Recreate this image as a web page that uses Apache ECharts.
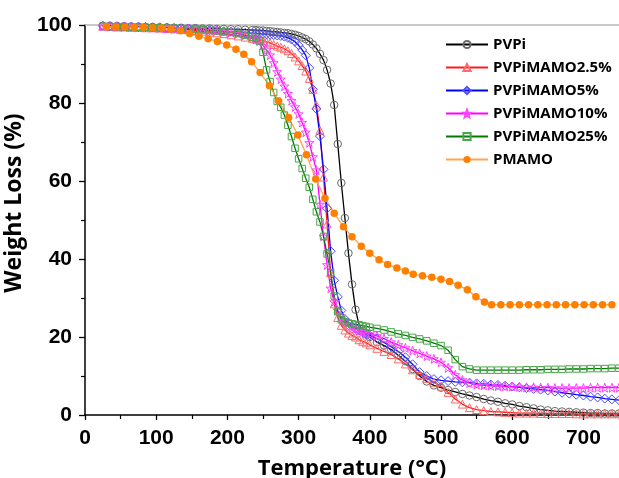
<!DOCTYPE html>
<html>
<head>
<meta charset="utf-8">
<script src="https://cdn.jsdelivr.net/npm/echarts@6/dist/echarts.min.js"></script>
<style>
  html, body { margin: 0; padding: 0; background: #fff; }
  #chart { width: 619px; height: 478px; }
</style>
</head>
<body>
<div id="chart"></div>
<script>
// temperature grid shared by the PVPi series (°C)
var temps = [
  25, 35, 45, 55, 65, 75, 85, 95, 105, 115, 125, 135, 145, 155, 165, 175, 185, 195, 205, 215, 225, 235,
  240, 245, 250, 255, 260, 265, 270, 275, 280, 285, 290, 295, 300, 305, 310, 315, 320, 325, 330, 335,
  340, 345, 350, 355, 360, 365, 370, 375, 380, 385, 390, 395, 400,
  410, 420, 430, 440, 450, 460, 470, 480, 490, 500, 510, 520, 530, 540, 550, 560, 570, 580, 590, 600,
  610, 620, 630, 640, 650, 660, 670, 680, 690, 700, 710, 720, 730, 740, 750
];

var pvpi = [
  99.8, 99.8, 99.7, 99.7, 99.6, 99.6, 99.5, 99.5, 99.4, 99.4, 99.3, 99.3, 99.2, 99.2, 99.1, 99.1, 99.0, 99.0, 98.9, 98.9, 98.8, 98.7,
  98.7, 98.6, 98.6, 98.5, 98.4, 98.3, 98.2, 98.1, 98.0, 97.9, 97.7, 97.5, 97.2, 96.8, 96.4, 95.8, 95.0, 94.0, 92.6, 91.0,
  88.5, 85.0, 79.5, 69.5, 59.5, 50.5, 41.5, 33.5, 27.0, 23.0, 21.6, 20.6, 20.0,
  18.7, 17.8, 16.8, 15.3, 13.8, 11.8, 10.0, 8.6, 7.6, 7.0, 6.4, 5.9, 5.4, 5.0, 4.6, 4.1, 3.7, 3.4, 3.0, 2.7,
  2.3, 2.0, 1.7, 1.4, 1.2, 1.0, 0.9, 0.8, 0.7, 0.6, 0.5, 0.5, 0.4, 0.4, 0.4
];

var mamo2_5 = [
  99.7, 99.6, 99.5, 99.5, 99.4, 99.4, 99.3, 99.3, 99.2, 99.1, 99.0, 98.9, 98.8, 98.6, 98.4, 98.2, 98.0, 97.8, 97.5, 97.2, 96.9, 96.6,
  96.4, 96.2, 96.0, 95.7, 95.4, 95.0, 94.6, 94.3, 93.9, 93.4, 92.7, 91.8, 90.8, 89.6, 88.2, 86.3, 83.5, 79.5, 73.0, 61.0,
  49.0, 36.5, 28.5, 25.0, 23.0, 21.8, 21.0, 20.4, 20.0, 19.3, 18.9, 18.5, 18.0,
  17.1, 16.3, 15.5, 14.4, 13.1, 11.6, 10.4, 9.4, 8.4, 7.4, 5.8, 4.1, 2.8, 1.9, 1.4, 1.1, 0.9, 0.8, 0.7, 0.6,
  0.5, 0.5, 0.5, 0.4, 0.4, 0.4, 0.4, 0.4, 0.3, 0.3, 0.3, 0.3, 0.3, 0.3, 0.3
];

var mamo5 = [
  99.8, 99.7, 99.7, 99.6, 99.6, 99.5, 99.5, 99.4, 99.4, 99.3, 99.2, 99.1, 99.0, 98.9, 98.8, 98.7, 98.6, 98.4, 98.3, 98.2, 98.0, 97.9,
  97.8, 97.8, 97.7, 97.6, 97.5, 97.4, 97.3, 97.2, 97.0, 96.7, 96.3, 95.7, 94.8, 93.6, 92.2, 89.0, 83.5, 78.5, 71.5, 63.0,
  53.0, 42.0, 34.5, 30.3, 26.8, 24.6, 23.6, 22.8, 22.2, 21.7, 21.2, 20.8, 20.4,
  19.6, 18.6, 17.5, 16.3, 14.8, 13.0, 11.0, 10.0, 9.2, 8.9, 8.7, 8.5, 8.4, 8.3, 8.1, 8.0, 7.8, 7.7, 7.5, 7.3,
  7.1, 6.9, 6.7, 6.5, 6.3, 6.0, 5.7, 5.5, 5.2, 5.0, 4.7, 4.5, 4.2, 4.0, 3.8
];

var mamo10 = [
  99.7, 99.6, 99.6, 99.5, 99.5, 99.4, 99.4, 99.3, 99.3, 99.2, 99.1, 99.0, 99.0, 98.9, 98.8, 98.6, 98.5, 98.3, 98.1, 97.8, 97.4, 96.8,
  96.4, 95.9, 94.8, 93.6, 92.3, 90.3, 88.0, 86.1, 84.3, 82.4, 80.6, 79.0, 77.2, 75.0, 72.5, 69.8, 66.2, 62.8, 54.0, 45.8,
  38.5, 32.5, 29.0, 26.8, 25.2, 24.0, 23.0, 22.4, 22.0, 21.6, 21.3, 21.0, 20.8,
  20.3, 19.6, 18.7, 18.0, 17.2, 16.5, 15.8, 15.1, 14.4, 13.5, 12.1, 10.3, 9.0, 8.2, 7.8, 7.6, 7.5, 7.4, 7.3, 7.3,
  7.2, 7.1, 7.1, 7.0, 7.0, 6.9, 6.9, 6.9, 6.9, 6.9, 7.0, 7.0, 7.0, 7.0, 7.0
];

var mamo25 = [
  99.7, 99.6, 99.6, 99.5, 99.5, 99.4, 99.4, 99.3, 99.3, 99.2, 99.2, 99.1, 99.0, 98.9, 98.8, 98.6, 98.5, 98.3, 98.1, 97.8, 97.4, 96.9,
  96.6, 95.9, 93.0, 88.5, 85.5, 82.7, 80.4, 78.9, 76.9, 74.3, 71.4, 68.4, 65.7, 63.2, 60.7, 58.4, 55.3, 52.1, 49.5, 45.8,
  41.3, 36.5, 30.5, 26.5, 24.4, 23.9, 23.6, 23.4, 23.2, 23.1, 22.9, 22.7, 22.5,
  22.2, 21.8, 21.3, 20.8, 20.4, 19.9, 19.5, 19.0, 18.4, 17.8, 16.6, 14.2, 12.4, 11.8, 11.5, 11.5, 11.5, 11.5, 11.5, 11.5,
  11.5, 11.6, 11.6, 11.6, 11.7, 11.7, 11.7, 11.8, 11.8, 11.8, 11.9, 11.9, 11.9, 12.0, 12.0
];

// PMAMO was sampled on its own (coarser) grid
var pmamoTemps = [
  30, 43, 56, 69, 82, 95, 108, 121, 134, 147, 160, 173, 186, 199, 212, 223, 234, 246, 259, 272,
  286, 299, 311, 324, 337, 350, 363, 375, 388, 400, 413, 425, 438, 450, 461, 474, 487, 500, 512, 524,
  537, 549, 561, 571, 584, 597, 610, 623, 636, 649, 662, 675, 688, 701, 714, 727, 740
];
var pmamo = [
  99.6, 99.5, 99.5, 99.4, 99.4, 99.3, 99.2, 99.0, 98.5, 97.8, 97.1, 96.5, 95.8, 94.9, 93.8, 92.5, 90.6, 87.8, 84.4, 80.5,
  76.3, 71.8, 66.7, 60.5, 55.6, 51.7, 48.3, 45.7, 43.3, 41.5, 39.8, 38.6, 37.7, 36.9, 36.1, 35.7, 35.3, 34.8, 34.2, 33.3,
  32.1, 30.3, 29.0, 28.3, 28.3, 28.3, 28.3, 28.3, 28.3, 28.3, 28.3, 28.3, 28.3, 28.3, 28.3, 28.3, 28.3
];

var xTicks = [0, 100, 200, 300, 400, 500, 600, 700];
var yTicks = [0, 20, 40, 60, 80, 100];

;(function () {
  'use strict';

  var STAR = 'path://M0,-10L2.35,-3.24L9.51,-3.09L3.8,1.24L5.88,8.09L0,4L-5.88,8.09L-3.8,1.24L-9.51,-3.09L-2.35,-3.24Z';

  function pairs(xs, ys) {
    return xs.map(function (x, i) { return [x, ys[i]]; });
  }

  function hollowSeries(name, values, lineColor, markColor, symbol, size) {
    return {
      name: name,
      type: 'line',
      data: pairs(temps, values),
      symbol: symbol,
      symbolSize: size,
      showAllSymbol: true,
      lineStyle: { color: lineColor, width: 1.3 },
      itemStyle: { color: 'rgba(255,255,255,0)', borderColor: markColor, borderWidth: 1 }
    };
  }

  function init() {
    var chart = echarts.init(document.getElementById('chart'));

    var series = [
      hollowSeries('PVPi', pvpi, '#000000', '#6a6a6a', 'circle', 7.5),
      hollowSeries('PVPiMAMO2.5%', mamo2_5, '#ff1a1a', '#ff6a6a', 'triangle', 8),
      hollowSeries('PVPiMAMO5%', mamo5, '#0000ff', '#4a4aff', 'diamond', 9),
      hollowSeries('PVPiMAMO10%', mamo10, '#ff00ff', '#ff44ff', STAR, 9),
      hollowSeries('PVPiMAMO25%', mamo25, '#007a00', '#4aa64a', 'rect', 6.5),
      {
        name: 'PMAMO',
        type: 'line',
        data: pairs(pmamoTemps, pmamo),
        symbol: 'circle',
        symbolSize: 7.5,
        showAllSymbol: true,
        lineStyle: { color: '#ffa54a', width: 1.3 },
        itemStyle: { color: '#ff8000', borderWidth: 0 }
      }
    ];

    var tickFont = {
      color: '#000',
      fontFamily: '"Liberation Sans", Arial, sans-serif',
      fontWeight: 'bold',
      fontSize: 21
    };

    chart.setOption({
      animation: false,
      backgroundColor: '#fff',
      grid: { left: 85, right: 0, top: 25, bottom: 63, outerBoundsMode: 'none' },
      legend: {
        orient: 'vertical',
        left: 440,
        top: 32,
        itemWidth: 42,
        itemHeight: 9,
        itemGap: 8,
        textStyle: {
          color: '#000',
          fontFamily: '"Open Sans", sans-serif',
          fontWeight: 'bold',
          fontSize: 15
        },
        data: series.map(function (s) { return s.name; })
      },
      xAxis: [
        {
          type: 'value',
          min: 0,
          max: 750,
          interval: 100,
          name: 'Temperature (°C)',
          nameLocation: 'middle',
          nameGap: 43,
          nameTextStyle: {
            color: '#000',
            fontFamily: '"Open Sans", sans-serif',
            fontWeight: 'bold',
            fontSize: 22
          },
          axisLine: { lineStyle: { color: '#000', width: 1.5 } },
          axisTick: { inside: false, length: 5, lineStyle: { color: '#000', width: 1.3 } },
          minorTick: { show: true, splitNumber: 2, length: 4, lineStyle: { color: '#000', width: 1.2 } },
          splitLine: { show: false },
          axisLabel: Object.assign({
            margin: 13,
            showMaxLabel: false,
            formatter: function (v) { return xTicks.indexOf(v) >= 0 ? String(v) : ''; }
          }, tickFont)
        },
        {
          type: 'value',
          position: 'top',
          min: 0,
          max: 750,
          axisLine: { lineStyle: { color: '#b8b8b8', width: 1.5 } },
          axisTick: { show: false },
          axisLabel: { show: false },
          splitLine: { show: false }
        }
      ],
      yAxis: {
        type: 'value',
        min: 0,
        max: 100,
        interval: 20,
        name: 'Weight Loss (%)',
        nameLocation: 'middle',
        nameGap: 45,
        nameTextStyle: {
          color: '#000',
          fontFamily: '"Open Sans", sans-serif',
          fontWeight: 'bold',
          fontSize: 23,
          padding: [0, 0, 0, 34]
        },
        axisLine: { show: true, lineStyle: { color: '#000', width: 1.5 } },
        axisTick: { show: true, length: 6, lineStyle: { color: '#000', width: 1.3 } },
        minorTick: { show: true, splitNumber: 2, length: 4, lineStyle: { color: '#000', width: 1.2 } },
        splitLine: { show: false },
        axisLabel: Object.assign({
          margin: 13,
          formatter: function (v) { return yTicks.indexOf(v) >= 0 ? String(v) : ''; }
        }, tickFont)
      },
      series: series
    });
  }

  init();
})();
</script>
</body>
</html>
